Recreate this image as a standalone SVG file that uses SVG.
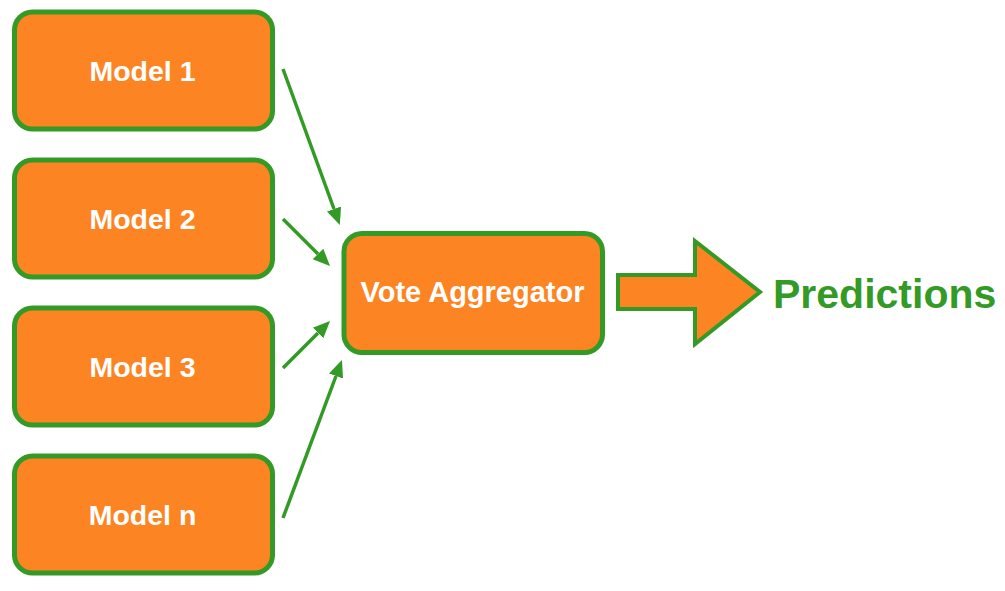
<svg xmlns="http://www.w3.org/2000/svg" width="1005" height="591" viewBox="0 0 1005 591">
<style>
.box{fill:#FD8423;stroke:#339A26;stroke-width:5}
.lbl{fill:#FFFFFF;font-family:"Liberation Sans",Arial,sans-serif;font-weight:bold;font-size:28.5px;text-anchor:middle}
.agg{font-size:29px}
.conn{stroke:#339A26;stroke-width:3.5;fill:none}
.pred{fill:#339A26;font-family:"Liberation Sans",Arial,sans-serif;font-weight:bold;font-size:41px}
</style>
<defs>
<marker id="ah" markerUnits="userSpaceOnUse" viewBox="0 -9 17 18" markerWidth="17" markerHeight="18" refX="0" refY="0" orient="auto">
<path d="M0,-7.5 L17,0 L0,7.5 Z" fill="#339A26"/>
</marker>
</defs>
<rect width="1005" height="591" fill="#FFFFFF"/>
<g id="model1">
<rect class="box" x="14.5" y="12" width="258" height="117" rx="18"/>
<text class="lbl" x="142.5" y="81">Model 1</text>
</g>
<g id="model2">
<rect class="box" x="14.5" y="160" width="258" height="117" rx="18"/>
<text class="lbl" x="142.5" y="229">Model 2</text>
</g>
<g id="model3">
<rect class="box" x="14.5" y="308" width="258" height="117" rx="18"/>
<text class="lbl" x="142.5" y="377">Model 3</text>
</g>
<g id="modeln">
<rect class="box" x="14.5" y="456" width="258" height="117" rx="18"/>
<text class="lbl" x="142.5" y="525">Model n</text>
</g>
<g id="aggregator">
<rect class="box" x="344" y="233.5" width="258.5" height="119" rx="18"/>
<text class="lbl agg" x="472.5" y="302">Vote Aggregator</text>
</g>
<g id="connectors">
<line class="conn" x1="283" y1="69" x2="334" y2="209" marker-end="url(#ah)"/>
<line class="conn" x1="283" y1="219" x2="318" y2="254" marker-end="url(#ah)"/>
<line class="conn" x1="283" y1="368" x2="318" y2="333" marker-end="url(#ah)"/>
<line class="conn" x1="283" y1="518" x2="336" y2="376" marker-end="url(#ah)"/>
</g>
<g id="output-arrow">
<polygon points="618,275 695,275 695,241 760,292 695,344 695,309 618,309" fill="#FD8423" stroke="#339A26" stroke-width="4" stroke-linejoin="miter"/>
</g>
<g id="predictions">
<text class="pred" x="773" y="308">Predictions</text>
</g>
</svg>
